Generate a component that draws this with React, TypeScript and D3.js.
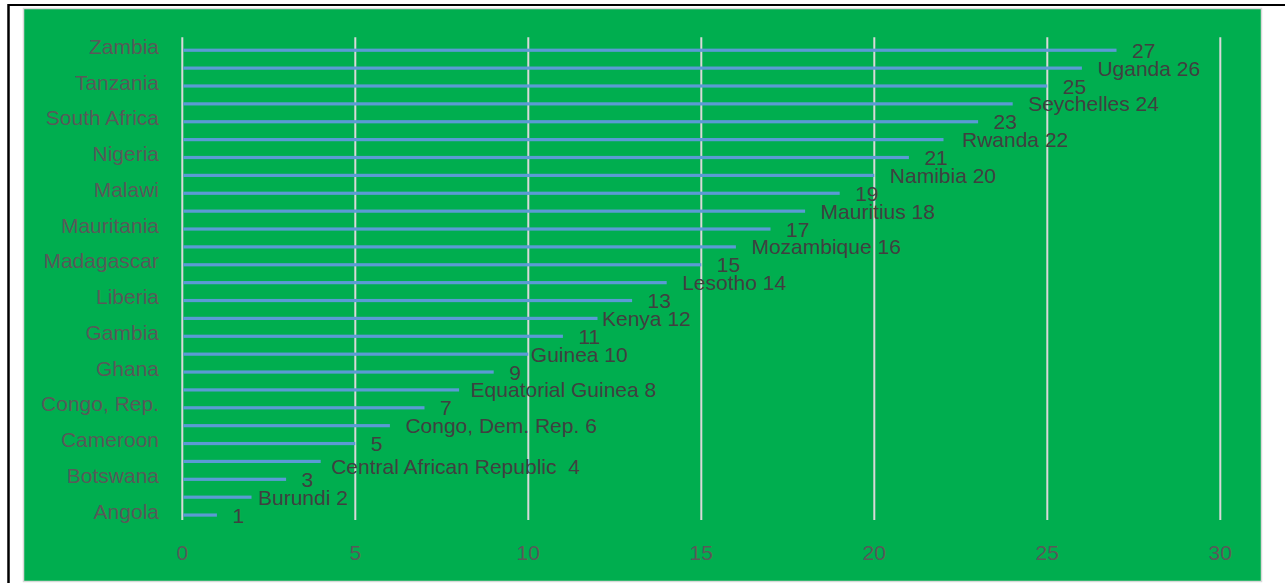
import React from "react";
import * as d3 from "d3";

const categories = [
  "Angola", "Burundi", "Botswana", "Central African Republic", "Cameroon",
  "Congo, Dem. Rep.", "Congo, Rep.", "Equatorial Guinea", "Ghana", "Guinea",
  "Gambia", "Kenya", "Liberia", "Lesotho", "Madagascar", "Mozambique",
  "Mauritania", "Mauritius", "Malawi", "Namibia", "Nigeria", "Rwanda",
  "South Africa", "Seychelles", "Tanzania", "Uganda", "Zambia",
];
const values = [
  1, 2, 3, 4, 5, 6, 7, 8, 9, 10, 11, 12, 13, 14, 15, 16, 17, 18, 19, 20,
  21, 22, 23, 24, 25, 26, 27,
];
// Category labels shown on the axis (every other one)
const axisLabels = [
  "Angola", "Botswana", "Cameroon", "Congo, Rep.", "Ghana", "Gambia",
  "Liberia", "Madagascar", "Mauritania", "Malawi", "Nigeria",
  "South Africa", "Tanzania", "Zambia",
];
// Data label text per bar
const dataLabels = [
  "1", "Burundi 2", "3", "Central African Republic  4", "5",
  "Congo, Dem. Rep. 6", "7", "Equatorial Guinea 8", "9", "Guinea 10",
  "11", "Kenya 12", "13", "Lesotho 14", "15", "Mozambique 16", "17",
  "Mauritius 18", "19", "Namibia 20", "21", "Rwanda 22", "23",
  "Seychelles 24", "25", "Uganda 26", "27",
];
const xTicks = [0, 5, 10, 15, 20, 25, 30];

const W = 1285;
const H = 583;
const FONT = "'Liberation Sans', Arial, sans-serif";

export default function App() {
  const x = d3.scaleLinear().domain([0, 30]).range([182.3, 1220.3]);
  const y = d3
    .scaleBand<string>()
    .domain([...categories].reverse())
    .range([37.3, 520])
    .padding(0);
  const bw = y.bandwidth();

  // manual nudges of a few data labels (as moved in the original)
  const nudge: Record<string, [number, number]> = {
    Burundi: [-9, 0],
    "Central African Republic": [-5, 5],
    "Equatorial Guinea": [-4, 0],
    Guinea: [-13, 0],
    Kenya: [-11, 0],
    Rwanda: [3, 0],
  };

  return (
    <svg
      width={W}
      height={H}
      style={{ position: "absolute", left: 0, top: 0, background: "#fff" }}
    >
      {/* frame lines */}
      <line x1={8} y1={5} x2={W} y2={5} stroke="#000" strokeWidth={2} />
      <line x1={8.5} y1={4} x2={8.5} y2={H} stroke="#000" strokeWidth={2.5} />
      {/* chart area */}
      <rect
        x={23.5}
        y={8.5}
        width={1238}
        height={573}
        fill="#00AE4F"
        stroke="#D9D9D9"
        strokeWidth={1.5}
      />
      {/* gridlines */}
      {xTicks.map((t) => (
        <line
          key={"g" + t}
          x1={x(t)}
          x2={x(t)}
          y1={37.3}
          y2={520}
          stroke="#D9D9D9"
          strokeWidth={2}
        />
      ))}
      {/* bars */}
      {categories.map((c, i) => {
        const cy = (y(c) as number) + bw / 2 + 4;
        return (
          <rect
            key={"b" + c}
            x={x(0) + 1}
            y={cy - 1.6}
            width={x(values[i]) - x(0) - 1}
            height={3.2}
            fill="#5B9BD5"
          />
        );
      })}
      {/* data labels */}
      {categories.map((c, i) => {
        const cy = (y(c) as number) + bw / 2 + 4;
        const [dx, dy] = nudge[c] || [0, 0];
        return (
          <text
            key={"l" + c}
            x={x(values[i]) + 15.5 + dx}
            y={cy + dy}
            dy="0.36em"
            fontFamily={FONT}
            fontSize={21}
            fill="#404040"
            style={{ whiteSpace: "pre" }}
          >
            {dataLabels[i]}
          </text>
        );
      })}
      {/* y axis labels */}
      {axisLabels.map((c) => (
        <text
          key={"y" + c}
          x={159}
          y={(y(c) as number) + bw / 2}
          dy="0.36em"
          textAnchor="end"
          fontFamily={FONT}
          fontSize={21}
          fill="#595959"
        >
          {c}
        </text>
      ))}
      {/* x axis tick labels */}
      {xTicks.map((t) => (
        <text
          key={"x" + t}
          x={x(t)}
          y={552}
          dy="0.36em"
          textAnchor="middle"
          fontFamily={FONT}
          fontSize={21}
          fill="#595959"
        >
          {t}
        </text>
      ))}
    </svg>
  );
}
